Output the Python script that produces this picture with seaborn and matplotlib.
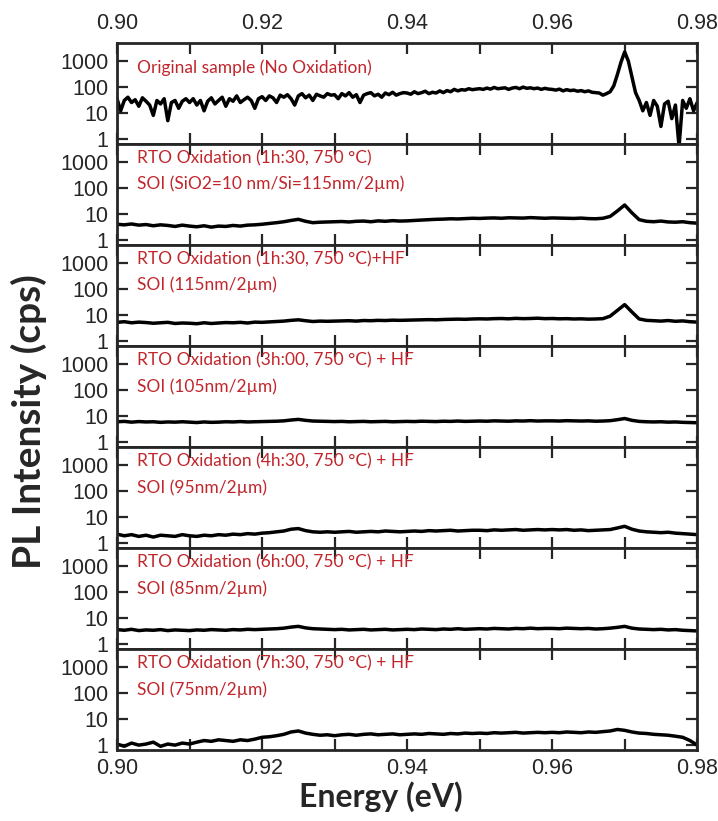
#!/usr/bin/env python3
# -*- coding: utf-8 -*-
"""
PL spectra of SOI samples after successive RTO oxidation steps,
stacked panels on a log intensity scale.
"""

import numpy as np
import matplotlib
matplotlib.use("Agg")
import matplotlib.pyplot as plt
import matplotlib.ticker as mticker
import seaborn as sns

###############################################################################
### Data

# panel 1 is sampled every 0.5 meV, the others every 1 meV
energy_fine = np.round(np.arange(0, 161) * 0.0005 + 0.900, 4)
energy = np.round(np.arange(0, 81) * 0.001 + 0.900, 3)

original = [
    35, 12, 30, 40, 25, 32, 18, 38, 28, 20, 8, 30, 22, 35, 5, 25, 30, 15, 28, 35,
    25, 35, 20, 30, 12, 28, 38, 22, 30, 40, 18, 35, 28, 45, 25, 32, 40, 30, 15, 35,
    42, 30, 45, 38, 25, 48, 40, 50, 35, 20, 45, 55, 38, 48, 30, 52, 45, 40, 55, 48,
    50, 35, 55, 45, 60, 40, 50, 25, 48, 55, 60, 45, 52, 40, 58, 50, 62, 48, 55, 60,
    58, 52, 65, 55, 60, 68, 55, 62, 58, 70, 60, 72, 65, 80, 70, 78, 75, 85, 78, 82,
    85, 80, 90, 82, 95, 85, 88, 92, 80, 90, 95, 85, 98, 88, 92, 85, 90, 80, 88, 82,
    80, 75, 82, 70, 78, 72, 75, 68, 72, 65, 70, 62, 60, 58, 48, 55, 65, 110, 300, 900,
    2200, 1000, 250, 60, 30, 12, 25, 8, 30, 18, 3, 22, 28, 6, 20, 0.5, 30, 15, 35, 12,
    25,
]

rto_1h30 = [
    4.0, 3.8, 4.1, 3.7, 3.9, 3.5, 3.8, 3.6, 3.3, 3.7,
    3.4, 3.2, 3.5, 3.1, 3.4, 3.3, 3.6, 3.4, 3.7, 3.8,
    4.0, 4.3, 4.6, 5.0, 5.6, 6.2, 5.2, 4.6, 4.8, 4.9,
    5.0, 5.1, 4.9, 5.2, 5.3, 5.0, 5.4, 5.2, 5.5, 5.3,
    5.4, 5.6, 5.8, 6.0, 6.2, 6.3, 6.5, 6.4, 6.6, 6.8,
    6.7, 6.9, 7.0, 6.8, 7.1, 7.0, 6.9, 7.2, 7.0, 6.8,
    7.0, 6.9, 6.8, 6.7, 6.9, 6.6, 6.5, 6.8, 8.0, 13.0,
    22.0, 11.0, 6.0, 5.2, 5.0, 5.3, 4.9, 4.8, 5.0, 4.6,
    4.4,
]

rto_1h30_hf = [
    5.2, 5.5, 5.0, 5.3, 5.1, 4.8, 5.0, 5.2, 4.7, 4.9,
    4.8, 4.6, 5.0, 4.7, 4.9, 5.1, 5.0, 5.2, 4.9, 5.3,
    5.2, 5.4, 5.6, 5.8, 6.2, 6.5, 6.0, 5.6, 5.8, 5.7,
    5.8, 5.9, 6.0, 5.8, 6.1, 6.0, 6.2, 6.1, 6.3, 6.2,
    6.3, 6.4, 6.5, 6.6, 6.5, 6.7, 6.8, 6.9, 6.8, 7.0,
    7.1, 7.0, 7.2, 7.3, 7.1, 7.4, 7.2, 7.3, 7.5, 7.2,
    7.3, 7.1, 7.2, 7.0, 7.1, 6.9, 7.0, 7.2, 9.0, 15.0,
    25.0, 13.0, 7.0, 6.2, 6.0, 5.8, 6.1, 5.7, 5.9, 5.5,
    5.3,
]

rto_3h00_hf = [
    6.0, 6.2, 5.8, 6.1, 5.9, 6.0, 5.7, 5.9, 5.8, 6.0,
    5.8, 5.6, 5.9, 5.7, 5.8, 6.0, 5.9, 6.1, 5.9, 6.0,
    6.1, 6.2, 6.3, 6.5, 7.0, 7.4, 6.8, 6.4, 6.3, 6.2,
    6.1, 6.2, 6.0, 6.1, 6.2, 6.0, 6.1, 6.2, 6.0, 6.1,
    6.2, 6.1, 6.3, 6.2, 6.1, 6.3, 6.2, 6.4, 6.2, 6.3,
    6.4, 6.3, 6.5, 6.4, 6.3, 6.5, 6.4, 6.6, 6.4, 6.5,
    6.5, 6.4, 6.6, 6.5, 6.4, 6.5, 6.3, 6.4, 6.6, 7.2,
    8.0, 6.8, 6.2, 6.0, 5.9, 6.0, 5.8, 5.9, 5.7, 5.6,
    5.5,
]

rto_4h30_hf = [
    2.2, 1.9, 2.1, 1.8, 2.0, 1.7, 2.0, 1.9, 1.8, 2.1,
    1.9, 1.8, 2.0, 1.9, 2.1, 2.0, 2.2, 2.1, 2.3, 2.2,
    2.4, 2.5, 2.7, 2.9, 3.4, 3.6, 3.0, 2.7, 2.6, 2.7,
    2.6, 2.7, 2.8, 2.6, 2.7, 2.8, 2.7, 2.9, 2.8, 2.7,
    2.8, 2.9, 2.8, 3.0, 2.9, 3.0, 3.1, 2.9, 3.0, 3.1,
    3.1, 3.0, 3.2, 3.1, 3.2, 3.3, 3.1, 3.2, 3.3, 3.2,
    3.3, 3.2, 3.3, 3.1, 3.2, 3.0, 3.1, 3.2, 3.3, 3.8,
    4.4, 3.4, 2.9, 2.7, 2.6, 2.5, 2.6, 2.4, 2.3, 2.2,
    2.1,
]

rto_6h00_hf = [
    3.6, 3.4, 3.7, 3.3, 3.5, 3.4, 3.6, 3.3, 3.5, 3.4,
    3.3, 3.5, 3.4, 3.6, 3.5, 3.4, 3.6, 3.5, 3.7, 3.6,
    3.7, 3.8, 3.9, 4.1, 4.5, 4.8, 4.2, 3.9, 3.8, 3.7,
    3.6, 3.7, 3.5, 3.6, 3.7, 3.5, 3.6, 3.7, 3.5, 3.6,
    3.7, 3.6, 3.8, 3.7, 3.6, 3.8, 3.7, 3.9, 3.7, 3.8,
    3.9, 3.8, 4.0, 3.9, 3.8, 4.0, 3.9, 4.1, 3.9, 4.0,
    4.0, 3.9, 4.1, 4.0, 3.9, 4.0, 3.8, 3.9, 4.1, 4.4,
    4.8, 4.1, 3.8, 3.7, 3.6, 3.7, 3.5, 3.6, 3.4, 3.3,
    3.2,
]

rto_7h30_hf = [
    1.1, 0.9, 1.2, 1.0, 1.1, 1.3, 0.9, 1.1, 1.0, 1.2,
    1.1, 1.3, 1.5, 1.4, 1.6, 1.5, 1.4, 1.6, 1.5, 1.7,
    2.0, 2.1, 2.3, 2.6, 3.2, 3.5, 2.9, 2.6, 2.4, 2.5,
    2.3, 2.5, 2.6, 2.4, 2.6, 2.7, 2.5, 2.6, 2.7, 2.5,
    2.6, 2.7, 2.6, 2.8, 2.7, 2.6, 2.8, 2.7, 2.9, 2.8,
    2.9, 2.8, 3.0, 2.9, 3.0, 3.1, 2.9, 3.0, 3.1, 3.0,
    3.1, 3.0, 3.2, 3.1, 3.0, 3.2, 3.1, 3.3, 3.5, 4.0,
    3.7, 3.2, 2.9, 2.8, 2.6, 2.5, 2.4, 2.2, 2.0, 1.5,
    1.0,
]

labels = [
    "Original sample (No Oxidation)",
    "RTO Oxidation (1h:30, 750 °C)\nSOI (SiO2=10 nm/Si=115nm/2µm)",
    "RTO Oxidation (1h:30, 750 °C)+HF\nSOI (115nm/2µm)",
    "RTO Oxidation (3h:00, 750 °C) + HF\nSOI (105nm/2µm)",
    "RTO Oxidation (4h:30, 750 °C) + HF\nSOI (95nm/2µm)",
    "RTO Oxidation (6h:00, 750 °C) + HF\nSOI (85nm/2µm)",
    "RTO Oxidation (7h:30, 750 °C) + HF\nSOI (75nm/2µm)",
]

xs = [energy_fine] + [energy] * 6
ys = [original, rto_1h30, rto_1h30_hf, rto_3h00_hf,
      rto_4h30_hf, rto_6h00_hf, rto_7h30_hf]

###############################################################################
### Plotting

sns.set_style("ticks")
plt.rcParams['font.family'] = ['Liberation Sans', 'DejaVu Sans']
plt.rcParams['axes.linewidth'] = 2.0

fig, axes = plt.subplots(7, 1, figsize=(7.18, 8.21), dpi=100, sharex=True)
fig.subplots_adjust(left=0.163, right=0.971, top=0.948, bottom=0.0865, hspace=0)

txt_font = ['Lato', 'DejaVu Sans']
red = '#C0262C'

for i, ax in enumerate(axes):
    sns.lineplot(x=xs[i], y=ys[i], ax=ax, color='black', lw=2.5, estimator=None)
    ax.set_yscale('log')
    ax.set_ylim(0.65, 5000)
    ax.set_xlim(0.90, 0.98)
    ax.set_yticks([1, 10, 100, 1000])
    ax.yaxis.set_major_formatter(mticker.FuncFormatter(lambda v, p: "%d" % v))
    ax.yaxis.set_minor_locator(mticker.LogLocator(base=10, subs=np.arange(2, 10)))
    ax.yaxis.set_minor_formatter(mticker.NullFormatter())
    ax.xaxis.set_major_locator(mticker.MultipleLocator(0.01))
    ax.xaxis.set_major_formatter(mticker.FuncFormatter(
        lambda v, p: "%.2f" % v if round(v * 100) % 2 == 0 else ""))
    ax.tick_params(which='major', direction='in', length=8, width=1.6,
                   top=True, right=True, labelsize=15.5)
    ax.tick_params(which='minor', direction='in', length=4, width=1.2,
                   top=True, right=True)
    ax.tick_params(axis='y', which='major', pad=6)
    ax.set_xlabel("")
    ax.set_ylabel("")
    # annotation, one text per line
    lines = labels[i].split("\n")
    ypos = [0.75] if len(lines) == 1 else [0.86, 0.60]
    for line, yy in zip(lines, ypos):
        ax.text(0.034, yy, line, transform=ax.transAxes, color=red,
                fontsize=12.5, family=txt_font, va='center')
    if i == 0:
        ax.tick_params(axis='x', labeltop=True, labelbottom=False, pad=6)
    else:
        ax.tick_params(axis='x', labeltop=False, labelbottom=(i == 6), pad=6)

fig.text(0.040, 0.486, "PL Intensity (cps)", rotation=90, ha='center', va='center',
         fontsize=28, fontweight='bold', family=txt_font)
fig.text(0.531, 0.030, "Energy (eV)", ha='center', va='center',
         fontsize=23, fontweight='bold', family=txt_font)

plt.savefig("out.png", dpi=100)
